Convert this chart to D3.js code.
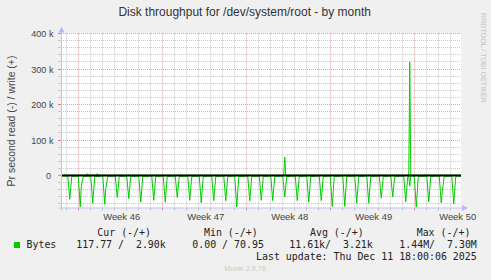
<!DOCTYPE html>
<html><head><meta charset="utf-8">
<script src="https://cdn.jsdelivr.net/npm/d3@7"></script>
<style>html,body{margin:0;padding:0;background:#f0f0f0;} svg{display:block} text{white-space:pre}</style>
</head><body>
<svg id="c" width="491" height="280"></svg>
<script>
// ---------- data ----------
const chartTitle = "Disk throughput for /dev/system/root - by month";
const yAxisTitle = "Pr second read (-) / write (+)";
const yTickValues = [0, 100000, 200000, 300000, 400000];
const yTickLabels = ["0 ", "100 k", "200 k", "300 k", "400 k"];
const weekStarts = ["2025-11-10 00:00", "2025-11-17 00:00", "2025-11-24 00:00", "2025-12-01 00:00", "2025-12-08 00:00"];
const weekLabels = ["Week 46", "Week 47", "Week 48", "Week 49", "Week 50"];

// read bytes/s (drawn below zero)
const readTimes = [
  "2025-11-08 12:00","2025-11-09 03:00","2025-11-09 07:00","2025-11-09 11:00",
  "2025-11-10 00:00","2025-11-10 04:00","2025-11-10 06:00","2025-11-10 10:00",
  "2025-11-11 01:00","2025-11-11 05:00","2025-11-11 09:00",
  "2025-11-12 01:00","2025-11-12 05:00","2025-11-12 07:00","2025-11-12 11:00",
  "2025-11-13 02:00","2025-11-13 06:00","2025-11-13 10:00",
  "2025-11-14 01:00","2025-11-14 05:00","2025-11-14 09:00",
  "2025-11-15 01:00","2025-11-15 05:00","2025-11-15 09:00",
  "2025-11-16 03:00","2025-11-16 07:00","2025-11-16 11:00",
  "2025-11-17 02:00","2025-11-17 06:00","2025-11-17 10:00",
  "2025-11-18 02:00","2025-11-18 06:00","2025-11-18 10:00",
  "2025-11-19 03:00","2025-11-19 07:00","2025-11-19 11:00",
  "2025-11-20 02:00","2025-11-20 06:00","2025-11-20 10:00",
  "2025-11-21 03:00","2025-11-21 07:00","2025-11-21 11:00",
  "2025-11-22 03:00","2025-11-22 07:00","2025-11-22 11:00",
  "2025-11-23 01:00","2025-11-23 05:00","2025-11-23 09:00",
  "2025-11-24 03:00","2025-11-24 07:00","2025-11-24 11:00",
  "2025-11-25 02:00","2025-11-25 06:00","2025-11-25 10:00",
  "2025-11-26 01:00","2025-11-26 05:00","2025-11-26 09:00",
  "2025-11-27 01:00","2025-11-27 05:00","2025-11-27 09:00",
  "2025-11-28 02:00","2025-11-28 06:00","2025-11-28 10:00",
  "2025-11-29 01:00","2025-11-29 05:00","2025-11-29 09:00",
  "2025-11-30 02:00","2025-11-30 06:00","2025-11-30 10:00",
  "2025-12-01 00:00","2025-12-01 04:00","2025-12-01 08:00",
  "2025-12-02 01:00","2025-12-02 05:00","2025-12-02 09:00",
  "2025-12-03 01:00","2025-12-03 05:00","2025-12-03 09:00",
  "2025-12-04 01:00","2025-12-04 05:00","2025-12-04 09:00",
  "2025-12-05 02:00","2025-12-05 06:00","2025-12-05 10:00",
  "2025-12-06 01:00","2025-12-06 05:00","2025-12-06 09:00",
  "2025-12-07 03:00","2025-12-07 07:00","2025-12-07 11:00",
  "2025-12-07 13:00","2025-12-07 15:00","2025-12-07 17:00",
  "2025-12-08 00:00","2025-12-08 04:00","2025-12-08 08:00",
  "2025-12-09 01:00","2025-12-09 05:00","2025-12-09 09:00",
  "2025-12-10 02:00","2025-12-10 06:00","2025-12-10 08:00","2025-12-10 12:00",
  "2025-12-11 03:00","2025-12-11 07:00","2025-12-11 11:00","2025-12-11 22:00"
];
const readValues = [
  1200, 1500, 67000, 2500,
  1500, 88000, 31000, 2500,
  1500, 78000, 2500,
  1500, 81000, 36000, 2500,
  1500, 62000, 2500,
  1500, 65000, 2500,
  1500, 75000, 2500,
  1500, 70000, 2500,
  1500, 75000, 2500,
  1500, 62000, 2500,
  1500, 70000, 2500,
  1500, 77000, 2500,
  1500, 71000, 2500,
  1500, 71000, 2500,
  1500, 89000, 2500,
  1500, 71000, 2500,
  1500, 70000, 2500,
  1500, 71000, 2500,
  1500, 60000, 2500,
  1500, 71000, 2500,
  1500, 75000, 2500,
  1500, 71000, 2500,
  1500, 87000, 2500,
  1500, 87000, 2500,
  1500, 78000, 2500,
  1500, 78000, 2500,
  1500, 64000, 2500,
  1500, 60000, 2500,
  1500, 74000, 2500,
  1500, 30000, 1500,
  1500, 89000, 2500,
  1500, 74000, 2500,
  1500, 77000, 45000, 2500,
  1500, 80000, 2500, 1500
];

// write bytes/s (drawn above zero)
const writeTimes = [
  "2025-11-08 12:00","2025-11-08 19:00","2025-11-08 21:00","2025-11-08 23:00",
  "2025-11-10 14:00","2025-11-10 16:00","2025-11-10 20:00","2025-11-10 22:00",
  "2025-11-11 10:00","2025-11-11 12:00","2025-11-11 16:00","2025-11-11 18:00",
  "2025-11-18 10:00","2025-11-18 12:00","2025-11-18 14:00",
  "2025-11-27 03:00","2025-11-27 05:00","2025-11-27 07:00",
  "2025-12-02 10:00","2025-12-02 12:00","2025-12-02 14:00",
  "2025-12-02 22:00","2025-12-03 00:00","2025-12-03 02:00",
  "2025-12-07 13:00","2025-12-07 15:00","2025-12-07 17:00",
  "2025-12-08 19:00","2025-12-08 21:00","2025-12-08 23:00",
  "2025-12-11 22:00"
];
const writeValues = [
  800, 800, 3500, 800,
  800, 4000, 4000, 800,
  800, 4000, 4000, 800,
  800, 3500, 800,
  800, 52000, 800,
  800, 3500, 800,
  800, 3000, 800,
  800, 320000, 800,
  800, 3000, 800,
  800
];

const seriesName = "Bytes";
const legendHeaders = ["Cur (-/+)", "Min (-/+)", "Avg (-/+)", "Max (-/+)"];
const legendValues = ["117.77 /  2.90k", "0.00 / 70.95", "11.61k/  3.21k", "1.44M/  7.30M"];
const lastUpdate = "Last update: Thu Dec 11 18:00:06 2025";
const footerText = "Munin 2.0.76";
const watermark = "RRDTOOL / TOBI OETIKER";

// ---------- layout ----------
const parse = d3.timeParse("%Y-%m-%d %H:%M");
const svg = d3.select("#c");
const L = 61, R = 461, T = 33.5, B = 207.5;
const x = d3.scaleTime()
  .domain([parse("2025-11-08 13:30"), parse("2025-12-11 21:30")])
  .range([L, R]);
const y = d3.scaleLinear().domain([-90000, 400000]).range([B, T]);
const crisp = v => Math.floor(v) + 0.5;
const sans = "Liberation Sans";

function fit(sel, w) {
  const l = sel.node().getComputedTextLength();
  const fs = parseFloat(sel.attr("font-size"));
  sel.attr("font-size", fs * w / l);
  return fs * w / l;
}

svg.append("rect").attr("width", 491).attr("height", 280).attr("fill", "#f0f0f0");
svg.append("rect").attr("x", L).attr("y", T).attr("width", R - L).attr("height", B - T).attr("fill", "#ffffff");

// grid
const g = svg.append("g");
const minorY = d3.range(-80000, 400001, 20000).filter(v => v % 100000 !== 0);
g.selectAll(".hmin").data(minorY).join("line")
  .attr("x1", L).attr("x2", R).attr("y1", d => crisp(y(d))).attr("y2", d => crisp(y(d)))
  .attr("stroke", "#c8c8c8").attr("stroke-dasharray", "1,1");
const days = d3.timeDay.range(x.domain()[0], x.domain()[1]).filter(d => d.getDay() !== 1);
g.selectAll(".vmin").data(days).join("line")
  .attr("x1", d => crisp(x(d))).attr("x2", d => crisp(x(d))).attr("y1", T).attr("y2", B)
  .attr("stroke", "#c8c8c8").attr("stroke-dasharray", "1,1");
g.selectAll(".hmaj").data(yTickValues).join("line")
  .attr("x1", L).attr("x2", R).attr("y1", d => crisp(y(d))).attr("y2", d => crisp(y(d)))
  .attr("stroke", "#eaa0a0").attr("stroke-dasharray", "1,1");
const mondays = weekStarts.map(parse);
g.selectAll(".vmaj").data(mondays).join("line")
  .attr("x1", d => crisp(x(d))).attr("x2", d => crisp(x(d))).attr("y1", T).attr("y2", B)
  .attr("stroke", "#eaa0a0").attr("stroke-dasharray", "1,1");

// ticks on axes
g.selectAll(".xt").data(days).join("line")
  .attr("x1", d => crisp(x(d))).attr("x2", d => crisp(x(d))).attr("y1", B).attr("y2", B + 3)
  .attr("stroke", "#c0c0c0");
g.selectAll(".xtm").data(mondays).join("line")
  .attr("x1", d => crisp(x(d))).attr("x2", d => crisp(x(d))).attr("y1", B).attr("y2", B + 3)
  .attr("stroke", "#e08080");
g.selectAll(".yt").data(minorY).join("line")
  .attr("x1", L - 3).attr("x2", L).attr("y1", d => crisp(y(d))).attr("y2", d => crisp(y(d)))
  .attr("stroke", "#c8c8c8");
g.selectAll(".ytm").data(yTickValues).join("line")
  .attr("x1", L - 3).attr("x2", L).attr("y1", d => crisp(y(d))).attr("y2", d => crisp(y(d)))
  .attr("stroke", "#e08080");

// data lines
svg.append("clipPath").attr("id", "pc").append("rect")
  .attr("x", L).attr("y", T - 1).attr("width", R - L).attr("height", B - T + 1);
const readData = readTimes.map((t, i) => ({ t: parse(t), v: -readValues[i] }));
const writeData = writeTimes.map((t, i) => ({ t: parse(t), v: writeValues[i] }));
const line = d3.line().x(d => x(d.t)).y(d => y(d.v));
const dg = svg.append("g").attr("clip-path", "url(#pc)");
dg.append("path").datum(readData).attr("d", line).attr("fill", "none").attr("stroke", "#00cc00").attr("stroke-width", 1);
dg.append("path").datum(writeData).attr("d", line).attr("fill", "none").attr("stroke", "#00cc00").attr("stroke-width", 1);

// zero rule
svg.append("line").attr("x1", L).attr("x2", R).attr("y1", y(0)).attr("y2", y(0))
  .attr("stroke", "#000").attr("stroke-width", 2);

// axes with arrows
const axisCol = "#c4c4f4";
svg.append("line").attr("x1", L + 0.5).attr("x2", L + 0.5).attr("y1", B + 3).attr("y2", T - 4)
  .attr("stroke", axisCol);
svg.append("line").attr("x1", L - 3).attr("x2", R + 2).attr("y1", B + 0.5).attr("y2", B + 0.5)
  .attr("stroke", axisCol);
svg.append("path").attr("d", `M${L + 0.5},${T - 7} L${L - 2.5},${T - 1} L${L + 3.5},${T - 1} Z`).attr("fill", "#b8b8f8");
svg.append("path").attr("d", `M${R + 7},${B + 0.5} L${R + 1},${B - 2.5} L${R + 1},${B + 3.5} Z`).attr("fill", "#b8b8f8");

// title
const tt = svg.append("text").attr("x", 244.7).attr("y", 16).attr("text-anchor", "middle")
  .attr("font-family", sans).attr("font-size", 12).attr("fill", "#333").text(chartTitle);
fit(tt, 252.7);

// y tick labels
const yl = svg.selectAll(".yl").data(yTickValues).join("text")
  .attr("x", 53.5).attr("y", d => crisp(y(d)) + 3.5).attr("text-anchor", "end")
  .attr("font-family", sans).attr("font-size", 9).attr("fill", "#444")
  .attr("xml:space", "preserve")
  .text((d, i) => yTickLabels[i]);
const yfs = (function () {
  const n = yl.filter(d => d === 400000);
  const l = n.node().getComputedTextLength();
  return 9 * 22.3 / l;
})();
yl.attr("font-size", yfs);

// week labels
const wl = svg.selectAll(".wl").data(mondays).join("text")
  .attr("x", d => x(d3.timeHour.offset(d, 84)) + 1.4).attr("y", 219.5).attr("text-anchor", "middle")
  .attr("font-family", sans).attr("font-size", 9).attr("fill", "#444")
  .text((d, i) => weekLabels[i]);
const wfs = 9 * 37 / wl.node().getComputedTextLength();
wl.attr("font-size", wfs);

// y-axis title
const yt = svg.append("text").attr("transform", "translate(14.5,121) rotate(-90)").attr("text-anchor", "middle")
  .attr("font-family", sans).attr("font-size", 11).attr("fill", "#444").text(yAxisTitle);
fit(yt, 131);

// watermark
const wm = svg.append("text").attr("transform", "translate(481,13) rotate(90)")
  .attr("font-family", sans).attr("font-size", 7).attr("fill", "#c4c4c4").text(watermark);
fit(wm, 90);

// legend
const mono = "DejaVu Sans Mono", mfs = 9.92, lc = "#222";
const headerX = [97.3, 204, 310, 416.7];
const valueX = [76.3, 192.3, 289.3, 399.3];
svg.selectAll(".lh").data(legendHeaders).join("text")
  .attr("x", (d, i) => headerX[i]).attr("y", 235.5)
  .attr("font-family", mono).attr("font-size", mfs).attr("fill", lc).attr("xml:space", "preserve").text(d => d);
svg.append("rect").attr("x", 14).attr("y", 242).attr("width", 6).attr("height", 6).attr("fill", "#00cc00");
svg.append("text").attr("x", 26.5).attr("y", 247.5)
  .attr("font-family", mono).attr("font-size", mfs).attr("fill", lc).text(seriesName);
svg.selectAll(".lv").data(legendValues).join("text")
  .attr("x", (d, i) => valueX[i]).attr("y", 247.5)
  .attr("font-family", mono).attr("font-size", mfs).attr("fill", lc).attr("xml:space", "preserve").text(d => d);
svg.append("text").attr("x", 476.7).attr("y", 260).attr("text-anchor", "end")
  .attr("font-family", mono).attr("font-size", mfs).attr("fill", lc).attr("xml:space", "preserve").text(lastUpdate);

// footer
const ft = svg.append("text").attr("x", 245).attr("y", 270.5).attr("text-anchor", "middle")
  .attr("font-family", sans).attr("font-size", 7).attr("fill", "#c8c8c8").text(footerText);
fit(ft, 41.7);
</script>
</body></html>
